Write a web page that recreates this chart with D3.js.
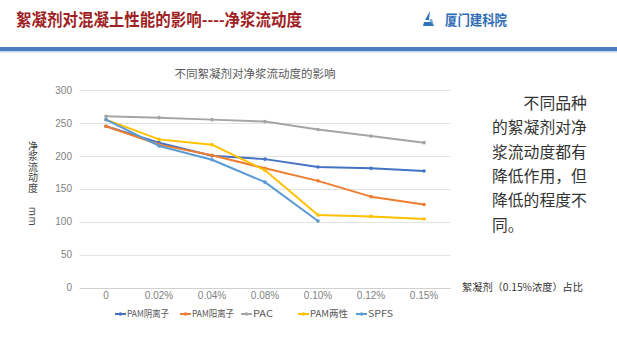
<!DOCTYPE html>
<html><head><meta charset="utf-8">
<script src="https://cdn.jsdelivr.net/npm/d3@7"></script>
<style>
html,body{margin:0;padding:0;background:#fff;}
svg{display:block;font-family:"Noto Sans CJK SC","Noto Sans",sans-serif;}
</style></head>
<body>
<svg id="c" width="617" height="346"></svg>
<script>
const categories = ["0","0.02%","0.04%","0.08%","0.10%","0.12%","0.15%"];
const seriesNames = ["PAM阴离子","PAM阳离子","PAC","PAM两性","SPFS"];
const pamAnion = [245,220,200,195,183,181,177];
const pamCation = [245,217,201,181,162,138,126];
const pac = [260,258,255,252,240,230,220];
const pamAmph = [255,225,217,178,110,108,104];
const spfs = [255,215,194,160,101];
const yTicks = [0,50,100,150,200,250,300];
const colors = ["#4472C4","#ED7D31","#A5A5A5","#FFC000","#5B9BD5"];
const seriesValues = [pamAnion,pamCation,pac,pamAmph,spfs];
const bodyLines = ["　　不同品种","的絮凝剂对净","浆流动度都有","降低作用，但","降低的程度不","同。"];

const svg = d3.select("#c");

// header
svg.append("text").attr("x",16).attr("y",26).attr("font-size",17).attr("font-weight","bold")
  .attr("fill","#9E1F24").attr("textLength",286).attr("lengthAdjust","spacingAndGlyphs")
  .text("絮凝剂对混凝土性能的影响----净浆流动度");
// logo
const lg = svg.append("g").attr("transform","translate(423,11)");
lg.append("path").attr("d","M7,0 L2,9 L6,9 Z").attr("fill","#2E75B6");
lg.append("path").attr("d","M1,11 L9,11 L11,15 L0,15 Z").attr("fill","#2E75B6");
lg.append("path").attr("d","M6,9 L11,15 L9,8 Z").attr("fill","#6FA8DC");
svg.append("text").attr("x",445).attr("y",25).attr("font-size",13.5).attr("font-weight","bold")
  .attr("fill","#2E6DB4").attr("textLength",62).attr("lengthAdjust","spacingAndGlyphs").text("厦门建科院");
svg.append("rect").attr("x",0).attr("y",47).attr("width",617).attr("height",4).attr("fill","#4A7EC0");
svg.append("rect").attr("x",0).attr("y",51).attr("width",617).attr("height",1.5).attr("fill","#C9D6E8");

// chart
const x = d3.scaleBand().domain(categories).range([79.5,450.5]);
const y = d3.scaleLinear().domain([0,300]).range([287.5,90]);

const grid = svg.append("g");
grid.selectAll("line").data(yTicks).join("line")
  .attr("x1",79.5).attr("x2",450.5).attr("y1",d=>Math.round(y(d))+0.5).attr("y2",d=>Math.round(y(d))+0.5)
  .attr("stroke",d=>d===0?"#D0D0D0":"#E3E3E3").attr("stroke-width",1);

const yAxis = svg.append("g").attr("transform","translate(72,0)")
  .call(d3.axisLeft(y).tickValues(yTicks).tickSize(0).tickPadding(0));
yAxis.select(".domain").remove();
yAxis.selectAll("text").attr("font-size",10).attr("fill","#7F7F7F").attr("font-family","'Liberation Sans',Arial,sans-serif");

const xAxis = svg.append("g").attr("transform","translate(0,292)")
  .call(d3.axisBottom(x).tickSize(0).tickPadding(0));
xAxis.select(".domain").remove();
xAxis.selectAll("text").attr("font-size",10).attr("fill","#7F7F7F").attr("dy","0.71em").attr("font-family","'Liberation Sans',Arial,sans-serif");

svg.append("text").attr("x",255).attr("y",78).attr("text-anchor","middle").attr("font-size",11.5)
  .attr("fill","#595959").text("不同絮凝剂对净浆流动度的影响");

// y label vertical
svg.append("text").attr("x",33).attr("y",141).attr("font-size",10)
  .style("writing-mode","vertical-rl").attr("letter-spacing",0.5)
  .attr("fill","#404040").text("净浆流动度　 mm");

svg.append("text").attr("x",462).attr("y",291).attr("font-size",10).attr("fill","#333")
  .attr("textLength",121).attr("lengthAdjust","spacingAndGlyphs").text("絮凝剂（0.15%浓度）占比");

const line = d3.line().x((d,i)=>x(categories[i])+x.bandwidth()/2).y(d=>y(d));
const sg = svg.append("g");
seriesValues.forEach((vals,k)=>{
  sg.append("path").datum(vals).attr("d",line).attr("fill","none").attr("stroke",colors[k])
    .attr("stroke-width",2).attr("stroke-linejoin","round");
  sg.append("g").selectAll("circle").data(vals).join("circle")
    .attr("cx",(d,i)=>x(categories[i])+x.bandwidth()/2).attr("cy",d=>y(d)).attr("r",1.8)
    .attr("fill",colors[k]);
});

// legend
const legX = [115,180,241,298,356];
const legW = [42,42,20,38,25];
const leg = svg.append("g");
seriesNames.forEach((n,k)=>{
  const g = leg.append("g").attr("transform",`translate(${legX[k]},314)`);
  g.append("line").attr("x1",0).attr("x2",11).attr("stroke",colors[k]).attr("stroke-width",2);
  g.append("circle").attr("cx",5.5).attr("r",1.8).attr("fill",colors[k]);
  g.append("text").attr("x",12).attr("y",0).attr("dy","0.35em").attr("font-size",9.5).attr("fill","#595959")
    .attr("textLength",legW[k]).attr("lengthAdjust","spacingAndGlyphs").text(n);
});

// body text
svg.append("g").selectAll("text").data(bodyLines).join("text")
  .attr("x",492).attr("y",(d,i)=>109+i*24.3).attr("font-size",15.8).attr("fill","#333").text(d=>d);
</script>
</body></html>
